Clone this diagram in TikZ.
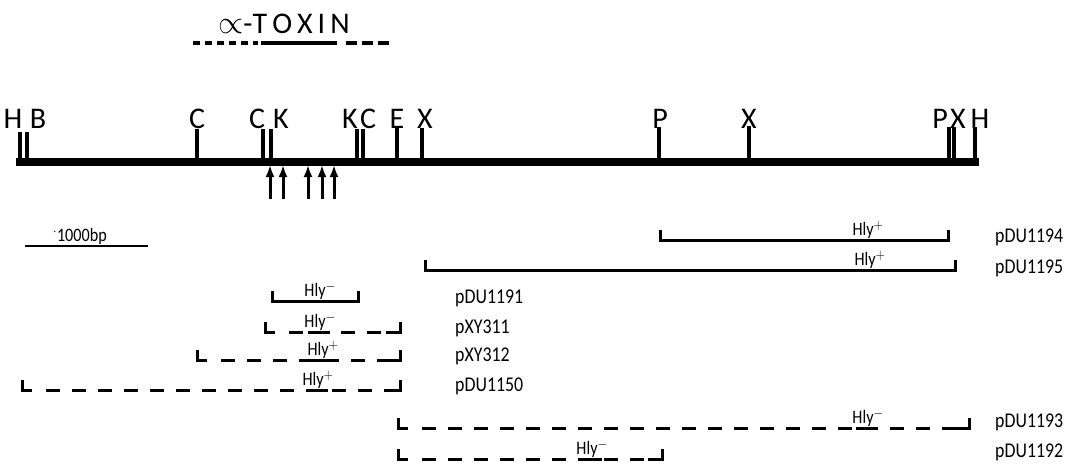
\documentclass[tikz,border=0pt]{standalone}
\usepackage{fontspec}
\usepackage{graphicx}
\setmainfont{Carlito}
\usetikzlibrary{arrows.meta,calc}
\newcommand{\narrow}[1]{\scalebox{0.85}[1]{#1}}
\tikzset{
  site/.style={line width=3.2pt},
  sitelbl/.style={font=\fontsize{30}{30}\selectfont, inner sep=0pt, anchor=base},
  mainline/.style={line width=7.5pt, line cap=rect},
  cloneline/.style={line width=3pt},
  clonedash/.style={line width=3pt, dash pattern=on 14pt off 12pt},
  hly/.style={font=\fontsize{19}{19}\selectfont, inner sep=1pt, anchor=south},
  plabel/.style={font=\fontsize{21}{21}\selectfont, inner sep=0pt, anchor=west},
  site arrow/.style={line width=3pt, -{Latex[length=12pt,width=9pt]}},
}
\begin{document}
\begin{tikzpicture}[x=1pt,y=-1pt]
\useasboundingbox (0,0) rectangle (1068,466);
% title
\node[font=\fontsize{30}{30}\selectfont, inner sep=0pt, anchor=base] (title) at (284,33) {\scalebox{1.3}{$\propto$}-T\,O\,X\,I\,N};
\coordinate (t1) at (193,43);
\coordinate (t2) at (258,43);
\coordinate (t3) at (337,43);
\coordinate (t4) at (393,43);
\draw[line width=3.5pt, dash pattern=on 7pt off 5pt] (t1) -- (t2);
\draw[line width=3.5pt] (t2) ++(3,0) -- (t3);
\draw[line width=3.5pt, dash pattern=on 11pt off 5pt] (t3) ++(9,0) -- (t4);
% main map
\coordinate (L) at (20,162);
\coordinate (R) at (975,162);
\draw[mainline] (L) -- (R);
\foreach \nm/\x/\top in {H1/20/132,B/27/132,C1/197/129,C2/263/129,K1/271/129,K2/357/129,C3/363/129,E/397/128,X1/422/128,P1/659/127,X2/749/126,P2/949/127,X3/954/127,H2/975/127}{
  \coordinate (s\nm) at (\x,162);
  \draw[site] (s\nm) -- (\x,\top);
}
\foreach \nm/\x/\t in {H1/13/H,B/38/B,C1/197/C,C2/257/C,K1/281/K,K2/350/K,C3/368/C,E/397/E,X1/425/X,P1/660/P,X2/749/X,P2/940/P,X3/958/X,H2/980/H}{
  \node[sitelbl] (l\nm) at (\x,128) {\t};
}
% arrows
\foreach \nm/\x in {a1/270,a2/283,a3/308,a4/322,a5/334}{
  \coordinate (\nm b) at (\x,199);
  \coordinate (\nm t) at (\x,165);
  \draw[site arrow] (\nm b) -- (\nm t);
}
% scale bar
\coordinate (sb1) at (25,246);
\coordinate (sb2) at (148,246);
\draw[line width=2.2pt] (sb1) -- (sb2);
\node[font=\fontsize{19}{19}\selectfont, inner sep=1pt, anchor=south] (sbl) at (80,246) {\narrow{$^{\cdot}$1000bp}};
% clones
\foreach \nm/\xa/\xb/\y/\st/\hx/\hs/\lx/\ly in {
  pDU1194/660/948/240/s/868/+/995/237,
  pDU1195/425/955/270/s/870/+/995/268,
  pDU1191/272/358/301/s/320/-/455/298,
  pXY311/265/400/332/d/320/-/455/328,
  pXY312/197/400/360/d/323/+/455/356,
  pDU1150/22/400/390/d/318/+/455/386,
  pDU1193/398/969/428/d/868/-/995/422,
  pDU1192/398/662/459/d/592/-/995/452}{
  \coordinate (\nm a) at (\xa,\y);
  \coordinate (\nm b) at (\xb,\y);
  \if\st s
    \draw[cloneline] (\xa,\y-10) -- (\nm a) -- (\nm b) -- (\xb,\y-10);
  \else
    \draw[cloneline] (\xa,\y-10) -- (\nm a) -- ++(10,0);
    \draw[cloneline] (\xb,\y-10) -- (\nm b) -- ++(-14,0);
    \draw[clonedash] ($(\nm a)+(24,0)$) -- ($(\nm b)+(-14,0)$);
    \draw[cloneline] (\hx-12,\y) -- (\hx+10,\y);
  \fi
  \node[hly] (h\nm) at (\hx,\y) {\narrow{Hly$^{\hs}$}};
  \node[plabel] (n\nm) at (\lx,\ly) {\narrow{\nm}};
}
\end{tikzpicture}
\end{document}
